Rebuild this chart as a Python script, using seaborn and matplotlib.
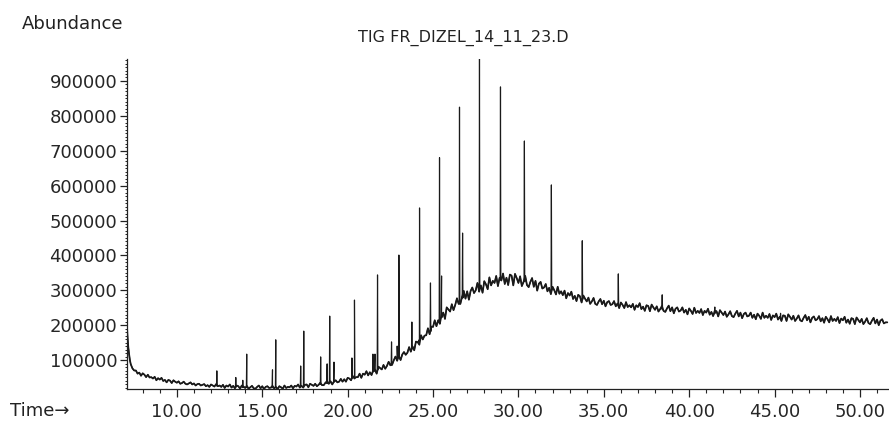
import numpy as np
import pandas as pd
import matplotlib
matplotlib.use("Agg")
import matplotlib.pyplot as plt
import seaborn as sns
from matplotlib.ticker import MultipleLocator

# ---------------- data (abundance values in thousands) ----------------
onset_time = [7.08, 7.12, 7.16, 7.20, 7.25, 7.30, 7.40, 7.50]
onset_abund = [195, 160, 135, 118, 100, 88, 76, 70]

# baseline sampled every 0.1 min from 7.6 to 51.6 (one row = one minute)
baseline_start, baseline_end = 7.6, 51.6
baseline_abund = [
    70, 61, 64, 55, 62, 58, 51, 58, 50, 51,
    47, 52, 42, 48, 44, 49, 40, 43, 36, 43,
    41, 34, 42, 38, 35, 39, 32, 34, 38, 32,
    30, 33, 36, 30, 33, 27, 31, 32, 27, 29,
    31, 25, 28, 23, 30, 27, 24, 31, 25, 27,
    23, 29, 20, 27, 24, 30, 21, 26, 19, 27,
    25, 18, 27, 24, 20, 26, 18, 22, 26, 19,
    18, 23, 27, 19, 25, 17, 23, 25, 20, 21,
    26, 19, 23, 17, 25, 22, 18, 27, 20, 23,
    22, 27, 19, 26, 24, 30, 21, 26, 21, 29,
    30, 22, 32, 29, 26, 32, 25, 29, 35, 28,
    28, 35, 40, 32, 39, 30, 39, 42, 36, 38,
    46, 38, 45, 38, 49, 47, 42, 54, 47, 51,
    51, 61, 49, 61, 58, 68, 56, 65, 57, 71,
    73, 61, 81, 77, 73, 86, 75, 83, 95, 85,
    86, 99, 110, 98, 112, 100, 116, 123, 115, 121,
    137, 124, 139, 128, 153, 151, 144, 171, 159, 170,
    171, 191, 174, 196, 195, 214, 197, 214, 204, 230,
    236, 218, 251, 245, 239, 260, 243, 258, 277, 261,
    261, 281, 298, 276, 297, 273, 298, 308, 292, 300,
    321, 296, 314, 293, 326, 317, 303, 337, 314, 327,
    321, 341, 312, 336, 328, 348, 318, 336, 315, 345,
    342, 314, 347, 335, 321, 340, 312, 324, 341, 315,
    309, 324, 335, 310, 327, 299, 319, 324, 305, 308,
    318, 297, 307, 289, 310, 300, 288, 310, 290, 297,
    286, 299, 277, 292, 285, 296, 275, 284, 269, 287,
    283, 265, 285, 276, 268, 279, 261, 268, 278, 261,
    258, 268, 275, 260, 270, 254, 266, 269, 258, 260,
    269, 254, 262, 249, 265, 258, 249, 266, 252, 257,
    251, 261, 244, 257, 252, 263, 246, 253, 241, 257,
    255, 240, 259, 251, 244, 254, 239, 246, 255, 241,
    238, 248, 256, 240, 251, 234, 247, 251, 239, 242,
    251, 236, 244, 231, 248, 241, 232, 250, 235, 241,
    235, 246, 229, 241, 236, 247, 230, 238, 226, 242,
    240, 225, 243, 236, 229, 239, 224, 231, 240, 226,
    223, 233, 241, 225, 236, 220, 232, 236, 225, 227,
    236, 221, 230, 217, 233, 227, 218, 236, 221, 227,
    221, 232, 215, 228, 223, 233, 216, 224, 212, 228,
    227, 212, 231, 224, 216, 227, 212, 219, 228, 214,
    211, 221, 229, 214, 224, 208, 221, 225, 214, 217,
    226, 211, 220, 207, 224, 217, 208, 226, 212, 218,
    212, 223, 206, 219, 214, 224, 207, 216, 204, 220,
    218, 203, 222, 215, 208, 218, 203, 210, 220, 206,
    203, 213, 221, 205, 216, 200, 213, 217, 205, 208,
    208,
]

peak_time = [12.34, 13.45, 13.86, 14.09, 15.60, 15.79, 17.25, 17.43, 18.42, 18.80,
             18.95, 19.20, 20.25, 20.40, 21.48, 21.60, 21.75, 22.57, 22.90, 23.00,
             23.76, 24.21, 24.85, 25.38, 25.50, 26.55, 26.73, 27.72, 28.95, 30.35,
             31.93, 33.74, 35.85, 38.42, 41.50, 45.35]
peak_apex = [69, 50, 42, 117, 72, 158, 83, 183, 109, 89,
             226, 94, 106, 272, 117, 117, 344, 152, 140, 401,
             209, 536, 321, 680, 341, 825, 464, 970, 883, 728,
             602, 442, 347, 287, 252, 234]
peak_foot = [26, 23, 22, 22, 21, 21, 25, 26, 31, 33,
             35, 37, 48, 50, 66, 68, 72, 93, 104, 108,
             132, 158, 182, 215, 222, 270, 278, 310, 330, 325,
             300, 274, 258, 247, 234, 222]

y_ticks = [100000, 200000, 300000, 400000, 500000, 600000, 700000, 800000, 900000]
y_labels = ["100000", "200000", "300000", "400000", "500000", "600000", "700000", "800000", "900000"]
x_ticks = [10, 15, 20, 25, 30, 35, 40, 45, 50]
x_labels = ["10.00", "15.00", "20.00", "25.00", "30.00", "35.00", "40.00", "45.00", "50.00"]

# ---------------- build the trace ----------------
base_t = np.linspace(baseline_start, baseline_end, len(baseline_abund))
t_base = list(onset_time) + list(base_t)
v_base = list(onset_abund) + list(baseline_abund)
df_base = pd.DataFrame({"time": t_base, "abundance": np.array(v_base) * 1000.0})

t_all = list(t_base)
v_all = list(v_base)
hw = 0.02
for t, a, f in zip(peak_time, peak_apex, peak_foot):
    t_all += [t - hw, t, t + hw]
    v_all += [f, a, f]
df = pd.DataFrame({"time": t_all, "abundance": np.array(v_all) * 1000.0})
df = df.sort_values("time").reset_index(drop=True)

# ---------------- plot ----------------
sns.set_style("ticks")
plt.rcParams["font.family"] = ["DejaVu Sans"]

fig = plt.figure(figsize=(8.89, 4.22), dpi=100)
ax = fig.add_axes([127 / 889, 1 - 389 / 422, 1 - 127 / 889, (389 - 59) / 422])

# noisy baseline drawn slightly heavier, full trace (with sharp peaks) thin on top
sns.lineplot(data=df_base, x="time", y="abundance", ax=ax, color="#1a1a1a",
             linewidth=1.25, estimator=None, sort=False)
sns.lineplot(data=df, x="time", y="abundance", ax=ax, color="#1a1a1a",
             linewidth=0.85, estimator=None, sort=False)

ax.set_xlim(7.08, 51.7)
ax.set_ylim(17000, 963000)

ax.set_xticks(x_ticks)
ax.set_xticklabels(x_labels)
ax.xaxis.set_minor_locator(MultipleLocator(1))
ax.set_yticks(y_ticks)
ax.set_yticklabels(y_labels)
ax.yaxis.set_minor_locator(MultipleLocator(10000))

ax.tick_params(axis="both", which="major", labelsize=13, color="#222222", width=0.9)
ax.tick_params(axis="x", which="major", length=6, pad=4)
ax.tick_params(axis="y", which="major", length=5, pad=2)
ax.tick_params(axis="x", which="minor", length=3, width=0.8)
ax.tick_params(axis="y", which="minor", length=1.5, width=0.7)

ax.set_xlabel("")
ax.set_ylabel("")
for s in ["top", "right"]:
    ax.spines[s].set_visible(False)
for s in ["left", "bottom"]:
    ax.spines[s].set_linewidth(0.9)
    ax.spines[s].set_color("#222222")

fig.text(22 / 889, 1 - 24 / 422, "Abundance", fontsize=13, ha="left", va="center", color="#222222")
fig.text(463 / 889, 1 - 38 / 422, "TIG FR_DIZEL_14_11_23.D", fontsize=11.5, ha="center", va="center", color="#222222")
fig.text(10 / 889, 1 - 411 / 422, "Time\u2192", fontsize=13, ha="left", va="center", color="#222222")

fig.savefig("out.png", dpi=100)
